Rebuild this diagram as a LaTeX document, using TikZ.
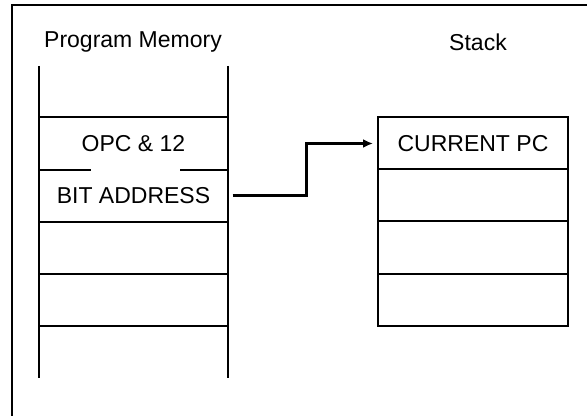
\documentclass[tikz,border=0pt]{standalone}
\usepackage{fontspec}
\setmainfont{Liberation Sans}
\usetikzlibrary{positioning,arrows.meta}

\begin{document}
\begin{tikzpicture}[x=0.5pt,y=-0.5pt,
  every node/.style={font=\fontsize{11.5}{14}\selectfont},
  cell/.style={minimum width=95pt, minimum height=26pt, inner sep=0pt, outer sep=0pt},
  stackcell/.style={cell, draw, line width=1pt}]

\useasboundingbox (0,0) rectangle (587,416);

% frame
\draw[line width=1pt] (12,416) -- (12,5) -- (587,5);

\node (memtitle) at (133,42) {Program Memory};
\node (stacktitle) at (478,42) {Stack};

% program memory
\draw[line width=1pt] (39,66) -- (39,378);
\draw[line width=1pt] (228,66) -- (228,378);
\foreach \y in {117,222,274,326}
  \draw[line width=1pt] (39,\y) -- (228,\y);
\draw[line width=1pt] (39,170) -- (91,170) (180,170) -- (228,170);

\node[cell] (opc) at (133.5,143.5) {OPC \& 12};
\node[cell] (bitaddr) at (133.5,196) {BIT ADDRESS};

% stack
\node[stackcell] (pc) at (473,143.5) {CURRENT PC};
\node[stackcell, below=0pt of pc] (st2) {};
\node[stackcell, below=0pt of st2] (st3) {};
\node[stackcell, below=0pt of st3] (st4) {};

\coordinate (bend) at (306,196);
\draw[line width=1.5pt, -{Latex[length=5pt,width=4.5pt]}, shorten <=2pt, shorten >=2.5pt]
  (bitaddr.east) -- (bend) |- (pc.west);

\end{tikzpicture}
\end{document}
